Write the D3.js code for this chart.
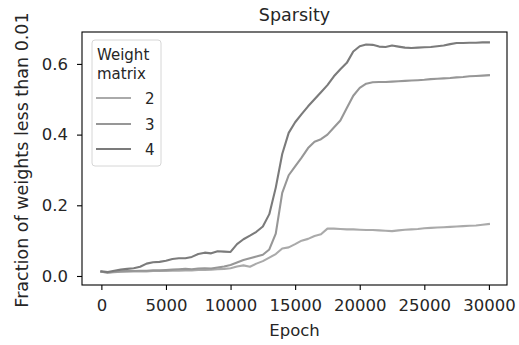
<!DOCTYPE html>
<html>
<head>
<meta charset="utf-8">
<script src="https://cdn.jsdelivr.net/npm/d3@7"></script>
<style>
  html, body { margin: 0; padding: 0; background: #fff; }
  svg { display: block; }
  text { font-family: "DejaVu Sans", sans-serif; fill: #262626; }
</style>
</head>
<body>
<svg id="chart" width="519" height="345"></svg>
<script>
// Training epochs at which sparsity was sampled
const epochs = [
  0, 500, 1000, 1500, 2000, 2500, 3000, 3500, 4000, 4500,
  5000, 5500, 6000, 6500, 7000, 7500, 8000, 8500, 9000, 9500,
  10000, 10500, 11000, 11500, 12000, 12500, 13000, 13500, 14000, 14500,
  15000, 15500, 16000, 16500, 17000, 17500, 18000, 18500, 19000, 19500,
  20000, 20500, 21000, 21500, 22000, 22500, 23000, 23500, 24000, 24500,
  25000, 25500, 26000, 26500, 27000, 27500, 28000, 28500, 29000, 29500, 30000
];

// Fraction of weights below 0.01, per weight matrix
const matrix2 = [
  0.012, 0.009, 0.011, 0.012, 0.012, 0.013, 0.013, 0.013, 0.014, 0.014,
  0.014, 0.015, 0.015, 0.016, 0.016, 0.017, 0.017, 0.018, 0.019, 0.020,
  0.022, 0.027, 0.030, 0.026, 0.035, 0.042, 0.052, 0.062, 0.078, 0.081,
  0.090, 0.100, 0.105, 0.113, 0.118, 0.134, 0.134, 0.133, 0.132, 0.132,
  0.131, 0.130, 0.130, 0.129, 0.128, 0.127, 0.129, 0.131, 0.132, 0.133,
  0.135, 0.136, 0.137, 0.138, 0.139, 0.140, 0.141, 0.142, 0.143, 0.145, 0.147
];
const matrix3 = [
  0.012, 0.010, 0.012, 0.013, 0.014, 0.014, 0.015, 0.015, 0.016, 0.016,
  0.017, 0.018, 0.019, 0.020, 0.019, 0.021, 0.022, 0.021, 0.024, 0.027,
  0.031, 0.038, 0.045, 0.050, 0.055, 0.060, 0.075, 0.120, 0.235, 0.285,
  0.310, 0.335, 0.362, 0.380, 0.387, 0.400, 0.420, 0.440, 0.475, 0.510,
  0.532, 0.544, 0.548, 0.549, 0.549, 0.550, 0.551, 0.552, 0.553, 0.554,
  0.555, 0.557, 0.558, 0.559, 0.560, 0.562, 0.563, 0.565, 0.566, 0.567, 0.568
];
const matrix4 = [
  0.013, 0.011, 0.015, 0.018, 0.020, 0.022, 0.026, 0.035, 0.039, 0.040,
  0.043, 0.048, 0.050, 0.050, 0.054, 0.062, 0.066, 0.064, 0.070, 0.069,
  0.068, 0.090, 0.104, 0.114, 0.125, 0.140, 0.175, 0.250, 0.345, 0.405,
  0.435, 0.458, 0.480, 0.500, 0.520, 0.540, 0.565, 0.585, 0.603, 0.635,
  0.650, 0.655, 0.654, 0.649, 0.648, 0.652, 0.649, 0.646, 0.645, 0.646,
  0.647, 0.648, 0.650, 0.652, 0.656, 0.659, 0.659, 0.660, 0.660, 0.661, 0.661
];

const seriesNames = ["2", "3", "4"];
const seriesValues = [matrix2, matrix3, matrix4];
const seriesColors = ["#aaaaaa", "#979797", "#7b7b7b"];

const xTicks = [0, 5000, 10000, 15000, 20000, 25000, 30000];
const yTicks = [0.0, 0.2, 0.4, 0.6];

const svg = d3.select("#chart");
const plot = { left: 82, right: 507, top: 32, bottom: 285 };

const x = d3.scaleLinear().domain([-1500, 31400]).range([plot.left, plot.right]);
const y = d3.scaleLinear().domain([-0.0255, 0.6903]).range([plot.bottom, plot.top]);

const tickFont = 16.5;

// Axes
const xAxis = svg.append("g")
  .attr("transform", `translate(0,${plot.bottom})`)
  .call(d3.axisBottom(x).tickValues(xTicks).tickFormat(d3.format("d")).tickSize(5).tickPadding(9));
const yAxis = svg.append("g")
  .attr("transform", `translate(${plot.left},0)`)
  .call(d3.axisLeft(y).tickValues(yTicks).tickFormat(d3.format(".1f")).tickSize(5).tickPadding(9));

[xAxis, yAxis].forEach(g => {
  g.select(".domain").remove();
  g.selectAll(".tick line").attr("stroke", "#000").attr("stroke-width", 1.1);
  g.selectAll(".tick text")
    .attr("font-family", "DejaVu Sans, sans-serif")
    .attr("font-size", tickFont)
    .attr("fill", "#262626");
});

// Lines
const line = d3.line()
  .x((d, i) => x(epochs[i]))
  .y(d => y(d));

svg.append("g").selectAll("path")
  .data(seriesValues)
  .join("path")
  .attr("d", line)
  .attr("fill", "none")
  .attr("stroke", (d, i) => seriesColors[i])
  .attr("stroke-width", 2.1)
  .attr("stroke-linejoin", "round")
  .attr("stroke-linecap", "square");

// Frame
svg.append("rect")
  .attr("x", plot.left).attr("y", plot.top)
  .attr("width", plot.right - plot.left).attr("height", plot.bottom - plot.top)
  .attr("fill", "none").attr("stroke", "#000").attr("stroke-width", 1.1);

// Title and axis labels
svg.append("text")
  .attr("x", (plot.left + plot.right) / 2).attr("y", 21)
  .attr("text-anchor", "middle").attr("font-size", 17.5)
  .text("Sparsity");

svg.append("text")
  .attr("x", (plot.left + plot.right) / 2).attr("y", 336)
  .attr("text-anchor", "middle").attr("font-size", 16.5)
  .text("Epoch");

svg.append("text")
  .attr("transform", `translate(28,160) rotate(-90)`)
  .attr("text-anchor", "middle").attr("font-size", 17.5)
  .text("Fraction of weights less than 0.01");

// Legend
const legend = svg.append("g");
legend.append("rect")
  .attr("x", 92).attr("y", 40).attr("width", 69).attr("height", 126)
  .attr("rx", 3).attr("fill", "#fff").attr("fill-opacity", 0.8)
  .attr("stroke", "#d6d6d6").attr("stroke-width", 1);
legend.append("text").attr("x", 97).attr("y", 60).attr("font-size", 15).text("Weight");
legend.append("text").attr("x", 97).attr("y", 79).attr("font-size", 15).text("matrix");

const entryY = [98, 124, 149];
seriesNames.forEach((name, i) => {
  legend.append("line")
    .attr("x1", 96).attr("x2", 131)
    .attr("y1", entryY[i]).attr("y2", entryY[i])
    .attr("stroke", seriesColors[i]).attr("stroke-width", 2.1);
  legend.append("text")
    .attr("x", 145).attr("y", entryY[i] + 5.5)
    .attr("font-size", 15).text(name);
});
</script>
</body>
</html>
